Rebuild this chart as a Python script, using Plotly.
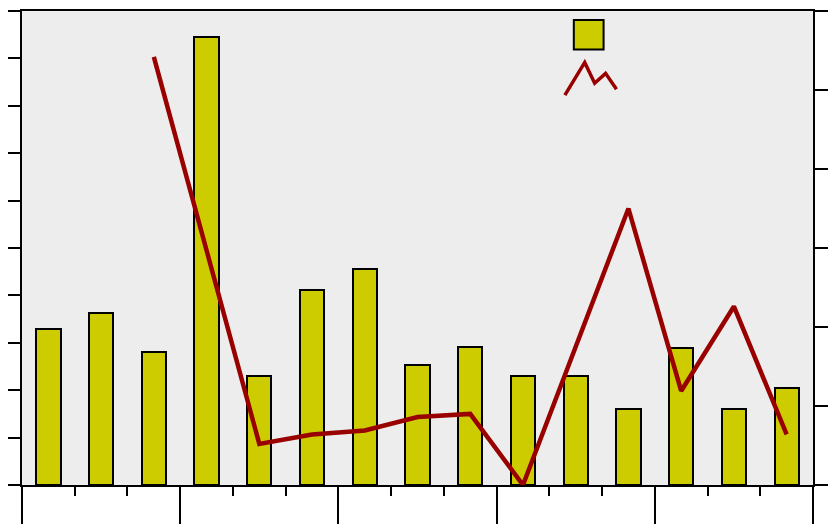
import plotly.graph_objects as go

# categories (15 groups, no labels shown)
categories = list(range(15))

# bar values (left axis)
bar_values = [3.29, 3.62, 2.81, 9.46, 2.30, 4.12, 4.56, 2.54, 2.92, 2.30, 2.30, 1.61, 2.90, 1.61, 2.05]

# line values (right axis), starting at the 3rd group
line_x = categories[2:]
line_values = [5.42, 2.95, 0.52, 0.64, 0.69, 0.86, 0.90, 0.0, 1.75, 3.50, 1.19, 2.26, 0.64]

# the page body has an 8px margin, so the figure is shifted by 8px
OFF = 8
W, H = 836 - 2 * OFF, 532 - 2 * OFF
L, T = 18 - OFF, 9 - OFF          # plot area starts at (18, 9) in the window
pw, ph = 797, 479
R, B = W - L - pw, H - T - ph


def px(x, y):
    # window pixel -> paper coordinates
    return (x - OFF - L) / pw, (T + ph - (y - OFF)) / ph


fig = go.Figure()
fig.add_trace(go.Bar(
    x=categories, y=bar_values, width=0.46,
    marker=dict(color="#CCCC00", line=dict(color="black", width=2)),
    showlegend=False,
))
fig.add_trace(go.Scatter(
    x=line_x, y=line_values, yaxis="y2", mode="lines",
    line=dict(color="#990000", width=4.5),
    showlegend=False,
))

# legend symbols drawn by hand (no text in the original)
x0, y0 = px(574, 48)
x1, y1 = px(604, 18)
fig.add_shape(type="rect", xref="paper", yref="paper", x0=x0, y0=y0, x1=x1, y1=y1,
              fillcolor="#CCCC00", line=dict(color="black", width=2))
zig = [(565, 94), (585, 61), (595, 82), (606, 72), (617, 88)]
path = ""
for i, (a, b) in enumerate(zig):
    u, v = px(a, b)
    path += ("M" if i == 0 else "L") + f"{u},{v} "
fig.add_shape(type="path", xref="paper", yref="paper", path=path,
              line=dict(color="#990000", width=3.5))

fig.update_layout(
    width=W, height=H,
    margin=dict(l=L, r=R, t=T, b=B),
    paper_bgcolor="white",
    plot_bgcolor="#EDEDED",
    bargap=0,
    xaxis=dict(
        range=[-0.5, 14.5], showgrid=False, zeroline=False,
        showline=True, linecolor="black", linewidth=2, mirror=True,
        tickmode="linear", tick0=-0.5, dtick=3,
        ticks="outside", ticklen=38, tickwidth=2, tickcolor="black",
        showticklabels=False,
        minor=dict(tickmode="linear", tick0=-0.5, dtick=1, ticks="outside",
                   ticklen=9, tickwidth=2, tickcolor="black"),
    ),
    yaxis=dict(
        range=[0, 10], showgrid=False, zeroline=False,
        showline=True, linecolor="black", linewidth=2,
        tickmode="linear", tick0=0, dtick=1,
        ticks="outside", ticklen=13, tickwidth=2, tickcolor="black",
        showticklabels=False,
    ),
    yaxis2=dict(
        range=[0, 6], overlaying="y", side="right", showgrid=False, zeroline=False,
        showline=True, linecolor="black", linewidth=2,
        tickmode="linear", tick0=0, dtick=1,
        ticks="outside", ticklen=14, tickwidth=2, tickcolor="black",
        showticklabels=False,
    ),
)

fig.write_html("out.html")
